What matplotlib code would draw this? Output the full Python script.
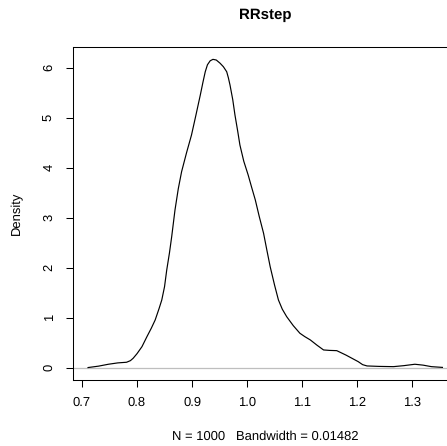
import matplotlib
matplotlib.use("Agg")
import matplotlib.pyplot as plt

# density estimate
x = [0.711, 0.730, 0.748, 0.765, 0.781, 0.788, 0.793, 0.800, 0.809, 0.818,
     0.826, 0.833, 0.840, 0.845, 0.850, 0.854, 0.859, 0.863, 0.869, 0.875,
     0.881, 0.890, 0.899, 0.907, 0.915, 0.920, 0.924, 0.928, 0.933, 0.938,
     0.944, 0.951, 0.957, 0.963, 0.966, 0.969, 0.974, 0.978, 0.983, 0.987,
     0.994, 1.002, 1.008, 1.015, 1.022, 1.030, 1.036, 1.042, 1.050, 1.057,
     1.064, 1.072, 1.084, 1.096, 1.105, 1.115, 1.127, 1.139, 1.150, 1.163,
     1.180, 1.202, 1.210, 1.218, 1.240, 1.266, 1.285, 1.305, 1.320, 1.335,
     1.351, 1.355]
y = [0.002, 0.030, 0.068, 0.095, 0.108, 0.140, 0.188, 0.280, 0.420, 0.620,
     0.790, 0.954, 1.180, 1.354, 1.620, 1.954, 2.300, 2.620, 3.154, 3.580,
     3.920, 4.300, 4.654, 5.050, 5.454, 5.720, 5.920, 6.060, 6.140, 6.168,
     6.155, 6.090, 6.020, 5.920, 5.800, 5.654, 5.360, 5.054, 4.730, 4.454,
     4.130, 3.854, 3.620, 3.354, 3.030, 2.688, 2.350, 2.020, 1.650, 1.354,
     1.170, 1.020, 0.840, 0.688, 0.620, 0.554, 0.450, 0.354, 0.345, 0.340,
     0.250, 0.120, 0.060, 0.034, 0.025, 0.020, 0.040, 0.068, 0.050, 0.020,
     0.008, 0.005]

xticks = [0.7, 0.8, 0.9, 1.0, 1.1, 1.2, 1.3]
xticklabels = ["0.7", "0.8", "0.9", "1.0", "1.1", "1.2", "1.3"]
yticks = [0, 1, 2, 3, 4, 5, 6]

plt.rcParams['font.family'] = ['Liberation Sans', 'DejaVu Sans']
plt.rcParams['text.hinting'] = 'no_hinting'
plt.rcParams['text.hinting_factor'] = 1

fig = plt.figure(figsize=(4.47, 4.46), dpi=100)
ax = fig.add_axes([0.164, 0.148, 0.8577, 0.7466])

ax.axhline(0, color='#BEBEBE', linewidth=0.9, zorder=1)
ax.plot(x, y, color='black', linewidth=0.85, zorder=2,
        solid_joinstyle='round', antialiased=True)

ax.set_xlim(0.6842, 1.381)
ax.set_ylim(-0.247, 6.415)

ax.set_xticks(xticks)
ax.set_xticklabels(xticklabels)
ax.set_yticks(yticks)
ax.set_yticklabels([str(v) for v in yticks], rotation=90, va='center')
ax.tick_params(axis='both', direction='out', length=5, width=0.75,
               labelsize=9, color='black')
ax.tick_params(axis='x', pad=7)
ax.tick_params(axis='y', pad=8)

for s in ax.spines.values():
    s.set_linewidth(0.75)
    s.set_color('black')

fig.text(0.164 + 0.8577 / 2, 1 - 15 / 446, 'RRstep', ha='center', va='center',
         fontsize=10.5, fontweight='bold')
fig.text(0.164 + 0.8577 / 2, 1 - 437 / 446, 'N = 1000   Bandwidth = 0.01482',
         ha='center', va='center', fontsize=9)
fig.text(17 / 447, 1 - 213.5 / 446, 'Density', ha='center', va='center',
         rotation=90, fontsize=9)

fig.savefig('out.png', dpi=100)
